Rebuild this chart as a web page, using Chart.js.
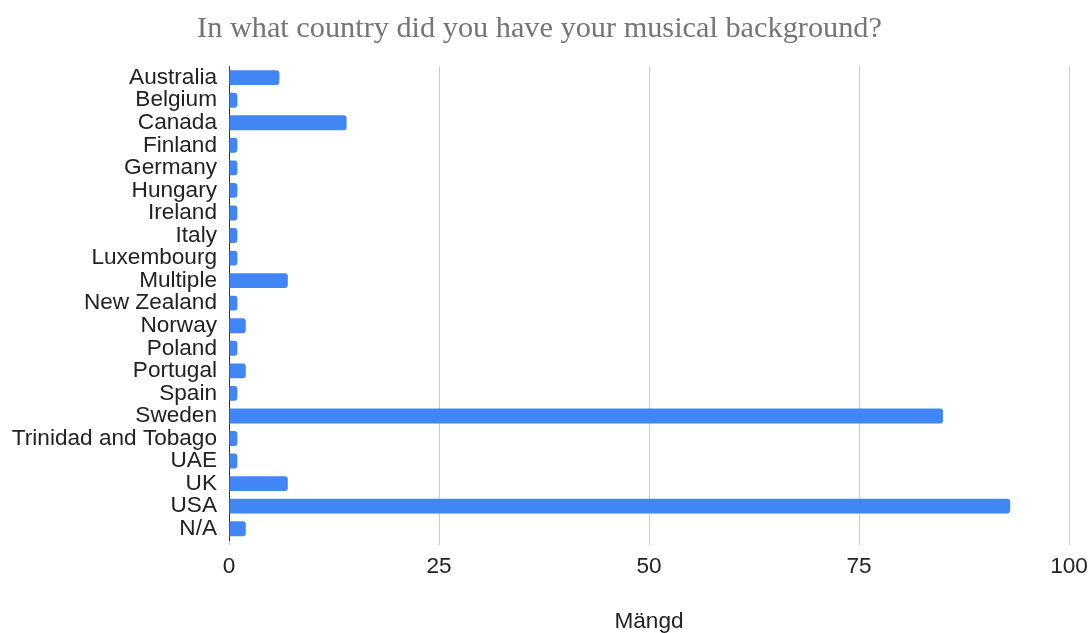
<!DOCTYPE html>
<html>
<head>
<meta charset="utf-8">
<script src="https://cdn.jsdelivr.net/npm/chart.js@4"></script>
<style>
    html, body { margin: 0; padding: 0; background: #fff; }
    #wrap { width: 1090px; height: 633px; }
</style>
</head>
<body>
<div id="wrap"><canvas id="chart" width="1090" height="633"></canvas></div>
<script>
var CHART_TITLE = 'In what country did you have your musical background?';
var AXIS_TITLE = 'Mängd';
var COUNTRIES = [
    'Australia', 'Belgium', 'Canada', 'Finland', 'Germany', 'Hungary', 'Ireland',
    'Italy', 'Luxembourg', 'Multiple', 'New Zealand', 'Norway', 'Poland', 'Portugal',
    'Spain', 'Sweden', 'Trinidad and Tobago', 'UAE', 'UK', 'USA', 'N/A'
];
var COUNTS = [6, 1, 14, 1, 1, 1, 1, 1, 1, 7, 1, 2, 1, 2, 1, 85, 1, 1, 7, 93, 2];
var X_TICKS = [0, 25, 50, 75, 100];

(function () {
    'use strict';

    var LABEL_FONT = { family: '"Liberation Sans", Arial, sans-serif', size: 22.6 };

    new Chart(document.getElementById('chart'), {
        type: 'bar',
        data: {
            labels: COUNTRIES,
            datasets: [{
                label: AXIS_TITLE,
                data: COUNTS,
                backgroundColor: '#4285f4',
                borderRadius: 3,
                categoryPercentage: 1,
                barPercentage: 0.66
            }]
        },
        options: {
            indexAxis: 'y',
            responsive: false,
            animation: false,
            // left padding only recentres the title; y axis width makes up the rest
            layout: { padding: { left: 10, right: 21, top: 0, bottom: 0 } },
            plugins: {
                legend: { display: false },
                tooltip: { enabled: false },
                title: {
                    display: true,
                    text: CHART_TITLE,
                    color: '#757575',
                    font: { family: '"Liberation Serif", "Times New Roman", serif', size: 30.3, weight: 'normal' },
                    padding: { top: 11, bottom: 19 }
                }
            },
            scales: {
                x: {
                    min: 0,
                    max: 100,
                    afterBuildTicks: function (scale) {
                        scale.ticks = X_TICKS.map(function (v) { return { value: v }; });
                    },
                    afterFit: function (scale) {
                        scale.height = 93;
                        scale.paddingRight = 0;
                        scale.paddingLeft = 0;
                    },
                    grid: { color: '#cccccc', lineWidth: 1, tickLength: 5 },
                    border: { display: false },
                    ticks: { color: '#222', font: LABEL_FONT, padding: 8, maxRotation: 0 },
                    title: {
                        display: true,
                        text: AXIS_TITLE,
                        color: '#222',
                        font: LABEL_FONT,
                        padding: { top: 0, bottom: -2 }
                    }
                },
                y: {
                    afterFit: function (scale) { scale.width = 219; },
                    grid: { display: false, drawTicks: false },
                    border: { display: true, color: '#333', width: 1 },
                    ticks: { color: '#222', font: LABEL_FONT, padding: 12, autoSkip: false }
                }
            }
        }
    });
})();
</script>
</body>
</html>
